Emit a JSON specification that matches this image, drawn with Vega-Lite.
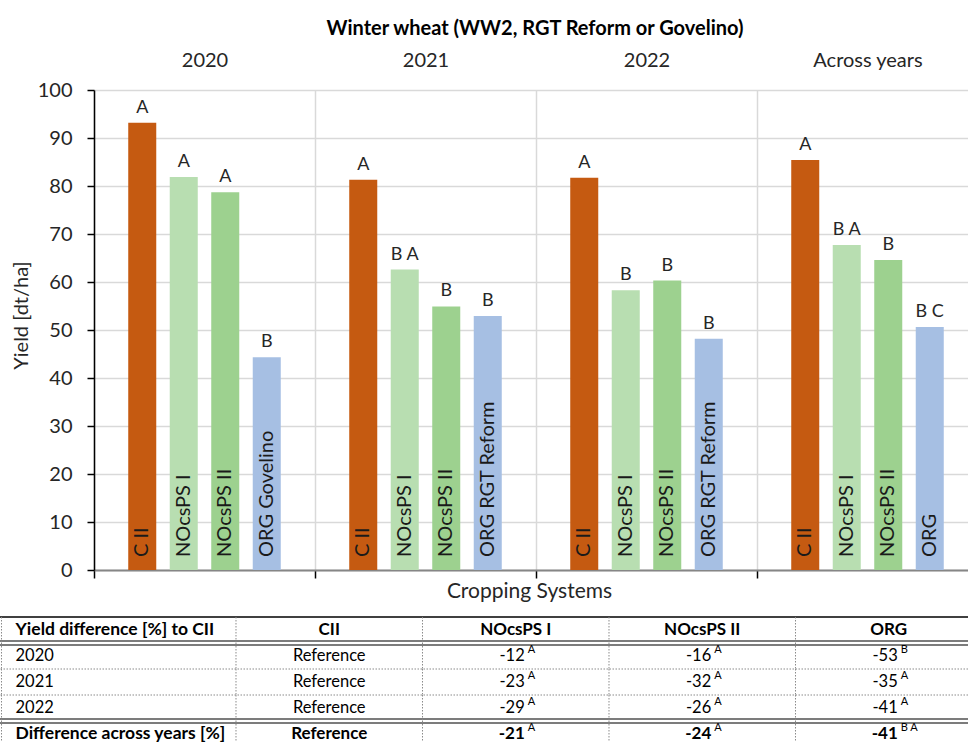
{
  "$schema": "https://vega.github.io/schema/vega-lite/v6.json",
  "autosize": {"type": "none"},
  "padding": 0,
  "width": 968,
  "height": 742,
  "background": "white",
  "config": {"font": "Lato", "view": {"stroke": null}},
  "title": {"text": "Winter wheat (WW2, RGT Reform or Govelino)", "fontSize": 20, "fontWeight": "bold", "color": "#000000", "anchor": "middle", "frame": "group", "dx": 51, "offset": -59, "baseline": "bottom"},
  "datasets": {
    "bars": [
      {"year": "2020", "system": "C II", "label": "C II", "yield": 93.2, "letters": "A"},
      {"year": "2020", "system": "NOcsPS I", "label": "NOcsPS I", "yield": 81.9, "letters": "A"},
      {"year": "2020", "system": "NOcsPS II", "label": "NOcsPS II", "yield": 78.7, "letters": "A"},
      {"year": "2020", "system": "ORG", "label": "ORG Govelino", "yield": 44.3, "letters": "B"},
      {"year": "2021", "system": "C II", "label": "C II", "yield": 81.3, "letters": "A"},
      {"year": "2021", "system": "NOcsPS I", "label": "NOcsPS I", "yield": 62.6, "letters": "B A"},
      {"year": "2021", "system": "NOcsPS II", "label": "NOcsPS II", "yield": 54.9, "letters": "B"},
      {"year": "2021", "system": "ORG", "label": "ORG RGT Reform", "yield": 52.9, "letters": "B"},
      {"year": "2022", "system": "C II", "label": "C II", "yield": 81.7, "letters": "A"},
      {"year": "2022", "system": "NOcsPS I", "label": "NOcsPS I", "yield": 58.3, "letters": "B"},
      {"year": "2022", "system": "NOcsPS II", "label": "NOcsPS II", "yield": 60.3, "letters": "B"},
      {"year": "2022", "system": "ORG", "label": "ORG RGT Reform", "yield": 48.2, "letters": "B"},
      {"year": "Across years", "system": "C II", "label": "C II", "yield": 85.4, "letters": "A"},
      {"year": "Across years", "system": "NOcsPS I", "label": "NOcsPS I", "yield": 67.7, "letters": "B A"},
      {"year": "Across years", "system": "NOcsPS II", "label": "NOcsPS II", "yield": 64.6, "letters": "B"},
      {"year": "Across years", "system": "ORG", "label": "ORG", "yield": 50.6, "letters": "B C"}
    ],
    "table": [
      {"row": "header", "col": "label", "text": "Yield difference [%] to CII", "sup": ""},
      {"row": "header", "col": "CII", "text": "CII", "sup": ""},
      {"row": "header", "col": "NOcsPS I", "text": "NOcsPS I", "sup": ""},
      {"row": "header", "col": "NOcsPS II", "text": "NOcsPS II", "sup": ""},
      {"row": "header", "col": "ORG", "text": "ORG", "sup": ""},
      {"row": "2020", "col": "label", "text": "2020", "sup": ""},
      {"row": "2020", "col": "CII", "text": "Reference", "sup": ""},
      {"row": "2020", "col": "NOcsPS I", "text": "-12", "sup": "A"},
      {"row": "2020", "col": "NOcsPS II", "text": "-16", "sup": "A"},
      {"row": "2020", "col": "ORG", "text": "-53", "sup": "B"},
      {"row": "2021", "col": "label", "text": "2021", "sup": ""},
      {"row": "2021", "col": "CII", "text": "Reference", "sup": ""},
      {"row": "2021", "col": "NOcsPS I", "text": "-23", "sup": "A"},
      {"row": "2021", "col": "NOcsPS II", "text": "-32", "sup": "A"},
      {"row": "2021", "col": "ORG", "text": "-35", "sup": "A"},
      {"row": "2022", "col": "label", "text": "2022", "sup": ""},
      {"row": "2022", "col": "CII", "text": "Reference", "sup": ""},
      {"row": "2022", "col": "NOcsPS I", "text": "-29", "sup": "A"},
      {"row": "2022", "col": "NOcsPS II", "text": "-26", "sup": "A"},
      {"row": "2022", "col": "ORG", "text": "-41", "sup": "A"},
      {"row": "across", "col": "label", "text": "Difference across years [%]", "sup": ""},
      {"row": "across", "col": "CII", "text": "Reference", "sup": ""},
      {"row": "across", "col": "NOcsPS I", "text": "-21", "sup": "A"},
      {"row": "across", "col": "NOcsPS II", "text": "-24", "sup": "A"},
      {"row": "across", "col": "ORG", "text": "-41", "sup": "B A"}
    ]
  },
  "layer": [
    {
      "data": {"name": "bars"},
      "mark": {"type": "rule", "opacity": 0},
      "encoding": {
        "x": {"field": "year", "type": "nominal", "sort": null,
              "scale": {"domain": ["2020", "2021", "2022", "Across years"], "range": [94, 978], "paddingInner": 0, "paddingOuter": 0},
              "axis": null},
        "y": {"field": "yield", "type": "quantitative",
              "scale": {"domain": [0, 100], "range": [570, 90], "nice": false, "zero": true},
              "axis": {"orient": "left", "offset": -94, "values": [0, 10, 20, 30, 40, 50, 60, 70, 80, 90, 100],
                       "title": "Yield [dt/ha]", "titleFontSize": 20, "titleFontWeight": "normal", "titleColor": "#262626", "titlePadding": 6, "titleY": 315,
                       "grid": true, "gridColor": "#D9D9D9", "gridWidth": 1.5,
                       "domainColor": "#000000", "domainWidth": 1.5, "tickColor": "#000000", "tickSize": 7, "tickWidth": 1.5,
                       "labelFontSize": 20, "labelColor": "#262626", "labelPadding": 15}}
      }
    },
    {
      "data": {"name": "bars"},
      "encoding": {
        "x": {"field": "year", "type": "nominal", "sort": null,
              "scale": {"domain": ["2020", "2021", "2022", "Across years"], "range": [94, 978], "paddingInner": 0, "paddingOuter": 0},
              "axis": null},
        "xOffset": {"field": "system", "type": "nominal",
              "scale": {"domain": ["C II", "NOcsPS I", "NOcsPS II", "ORG"], "paddingInner": 0.325, "paddingOuter": 0.825}},
        "y": {"field": "yield", "type": "quantitative",
              "scale": {"domain": [0, 100], "range": [570, 90], "nice": false, "zero": true},
              "axis": null}
      },
      "layer": [
        {
          "mark": {"type": "bar"},
          "encoding": {
            "x": {"field": "year", "type": "nominal", "sort": null,
                  "scale": {"domain": ["2020", "2021", "2022", "Across years"], "range": [94, 978], "paddingInner": 0, "paddingOuter": 0},
                  "axis": {"orient": "bottom", "offset": -172, "domainColor": "#868686", "domainWidth": 2,
                           "ticks": true, "tickBand": "extent", "tickColor": "#000000", "tickSize": 8, "tickWidth": 1.5,
                           "labels": false, "grid": false,
                           "title": "Cropping Systems", "titleFontSize": 21, "titleFontWeight": "normal", "titleColor": "#262626", "titlePadding": 2, "titleX": 529}},
            "color": {"field": "system", "type": "nominal",
                      "scale": {"domain": ["C II", "NOcsPS I", "NOcsPS II", "ORG"], "range": ["#C55A11", "#B8DEB1", "#9DD18F", "#A6BFE3"]},
                      "legend": null}
          }
        },
        {
          "mark": {"type": "text", "baseline": "alphabetic", "dy": -10, "fontSize": 18, "color": "#262626"},
          "encoding": {"text": {"field": "letters"}}
        },
        {
          "mark": {"type": "text", "angle": 270, "align": "left", "baseline": "middle", "dx": 13, "fontSize": 20, "color": "#1a1a1a"},
          "encoding": {"y": {"datum": 0, "axis": null}, "text": {"field": "label"}}
        },
        {
          "mark": {"type": "tick", "opacity": 0},
          "encoding": {
            "x": {"field": "year", "type": "nominal", "sort": null,
                  "scale": {"domain": ["2020", "2021", "2022", "Across years"], "range": [94, 978], "paddingInner": 0, "paddingOuter": 0},
                  "axis": {"orient": "top", "offset": -90, "domain": false, "ticks": false, "tickSize": 0,
                           "labelFontSize": 20, "labelColor": "#262626", "labelPadding": 20, "labelAngle": 0, "title": null,
                           "grid": true, "gridColor": "#D9D9D9", "gridWidth": 1.5, "tickBand": "extent"}}
          }
        }
      ]
    },
    {
      "data": {"name": "table"},
      "layer": [
        {
          "transform": [{"filter": "datum.row === 'header' && datum.col === 'label'"}],
          "mark": {"type": "rule", "color": "#404040", "strokeWidth": 2},
          "encoding": {"y": {"field": "row", "type": "nominal", "bandPosition": 0, "axis": null,
                             "scale": {"domain": ["header", "2020", "2021", "2022", "across"], "range": [617, 747], "paddingInner": 0, "paddingOuter": 0}}}
        },
        {
          "transform": [{"filter": "(datum.row === '2020' || datum.row === 'across') && datum.col === 'label'"}],
          "mark": {"type": "rule", "color": "#505050", "strokeWidth": 1.3, "yOffset": -2},
          "encoding": {"y": {"field": "row", "type": "nominal", "bandPosition": 0, "axis": null}}
        },
        {
          "transform": [{"filter": "(datum.row === '2020' || datum.row === 'across') && datum.col === 'label'"}],
          "mark": {"type": "rule", "color": "#505050", "strokeWidth": 1.3, "yOffset": 2},
          "encoding": {"y": {"field": "row", "type": "nominal", "bandPosition": 0, "axis": null}}
        },
        {
          "transform": [{"filter": "(datum.row === '2021' || datum.row === '2022') && datum.col === 'label'"}],
          "mark": {"type": "rule", "color": "#8a8a8a", "strokeWidth": 1, "strokeDash": [1.5, 1.5]},
          "encoding": {"y": {"field": "row", "type": "nominal", "bandPosition": 0, "axis": null}}
        },
        {
          "transform": [{"filter": "datum.col !== 'label'"}],
          "mark": {"type": "rule", "color": "#8a8a8a", "strokeWidth": 1, "strokeDash": [1.5, 1.5]},
          "encoding": {
            "x": {"field": "col", "type": "nominal", "bandPosition": 0, "axis": null,
                  "scale": {"domain": ["label", "CII", "NOcsPS I", "NOcsPS II", "ORG"], "range": [0, 982], "paddingInner": 0, "paddingOuter": 0.1327, "align": 1}},
            "y": {"field": "row", "type": "nominal", "bandPosition": 0, "axis": null},
            "y2": {"field": "row", "bandPosition": 1}
          }
        },
        {
          "transform": [{"filter": "datum.col === 'label'"}],
          "mark": {"type": "rule", "color": "#8a8a8a", "strokeWidth": 1, "strokeDash": [1.5, 1.5], "xOffset": -48},
          "encoding": {
            "x": {"field": "col", "type": "nominal", "bandPosition": 0, "axis": null},
            "y": {"field": "row", "type": "nominal", "bandPosition": 0, "axis": null},
            "y2": {"field": "row", "bandPosition": 1}
          }
        },
        {
          "transform": [{"filter": "datum.col === 'label' && (datum.row === 'header' || datum.row === 'across')"}],
          "mark": {"type": "text", "align": "left", "baseline": "middle", "dx": -34, "fontSize": 17.5, "fontWeight": "bold", "color": "#000000"},
          "encoding": {"x": {"field": "col", "type": "nominal", "bandPosition": 0, "axis": null},
                       "y": {"field": "row", "type": "nominal", "axis": null}, "text": {"field": "text"}}
        },
        {
          "transform": [{"filter": "datum.col === 'label' && datum.row !== 'header' && datum.row !== 'across'"}],
          "mark": {"type": "text", "align": "left", "baseline": "middle", "dx": -34, "fontSize": 16.5, "color": "#000000"},
          "encoding": {"x": {"field": "col", "type": "nominal", "bandPosition": 0, "axis": null},
                       "y": {"field": "row", "type": "nominal", "axis": null}, "text": {"field": "text"}}
        },
        {
          "transform": [{"filter": "datum.col !== 'label' && datum.sup === '' && (datum.row === 'header' || datum.row === 'across')"}],
          "mark": {"type": "text", "align": "center", "baseline": "middle", "fontSize": 17, "fontWeight": "bold", "color": "#000000"},
          "encoding": {"x": {"field": "col", "type": "nominal", "axis": null},
                       "y": {"field": "row", "type": "nominal", "axis": null}, "text": {"field": "text"}}
        },
        {
          "transform": [{"filter": "datum.col !== 'label' && datum.sup === '' && datum.row !== 'header' && datum.row !== 'across'"}],
          "mark": {"type": "text", "align": "center", "baseline": "middle", "fontSize": 16.5, "color": "#000000"},
          "encoding": {"x": {"field": "col", "type": "nominal", "axis": null},
                       "y": {"field": "row", "type": "nominal", "axis": null}, "text": {"field": "text"}}
        },
        {
          "transform": [{"filter": "datum.sup !== '' && datum.row === 'across'"}],
          "mark": {"type": "text", "align": "right", "baseline": "middle", "dx": 9, "fontSize": 17, "fontWeight": "bold", "color": "#000000"},
          "encoding": {"x": {"field": "col", "type": "nominal", "axis": null},
                       "y": {"field": "row", "type": "nominal", "axis": null}, "text": {"field": "text"}}
        },
        {
          "transform": [{"filter": "datum.sup !== '' && datum.row !== 'across'"}],
          "mark": {"type": "text", "align": "right", "baseline": "middle", "dx": 9, "fontSize": 16.5, "color": "#000000"},
          "encoding": {"x": {"field": "col", "type": "nominal", "axis": null},
                       "y": {"field": "row", "type": "nominal", "axis": null}, "text": {"field": "text"}}
        },
        {
          "transform": [{"filter": "datum.sup !== ''"}],
          "mark": {"type": "text", "align": "left", "baseline": "middle", "dx": 12, "dy": -6, "fontSize": 11, "color": "#000000"},
          "encoding": {"x": {"field": "col", "type": "nominal", "axis": null},
                       "y": {"field": "row", "type": "nominal", "axis": null}, "text": {"field": "sup"}}
        }
      ]
    }
  ],
  "resolve": {"scale": {"x": "independent", "y": "independent"}}
}
